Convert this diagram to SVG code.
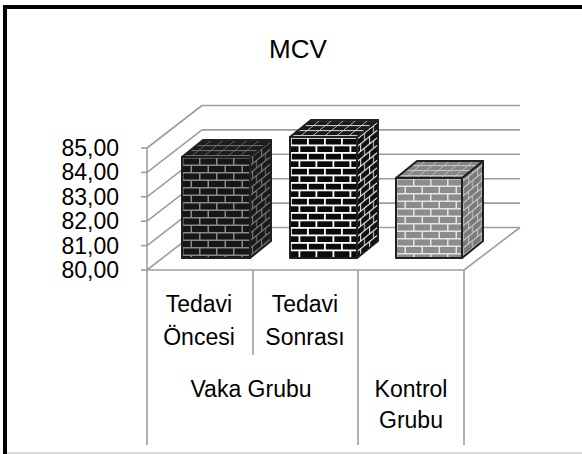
<svg xmlns="http://www.w3.org/2000/svg" width="582" height="454" viewBox="0 0 582 454">
<style>
.t{font-family:"Liberation Sans",Arial,sans-serif;fill:#000}
.lbl{font-size:23px;text-anchor:middle}
.ax{font-size:23px;text-anchor:end}
.g{stroke:#9e9e9e;stroke-width:1.6;fill:none}
.edge{stroke:#202020;stroke-width:2;stroke-linejoin:round}
</style>
<defs>
<pattern id="f1" width="17" height="15" patternUnits="userSpaceOnUse" x="182" y="157">
<rect width="17" height="15" fill="#8a8a8a"/>
<rect x="1.5" y="1.5" width="15.5" height="6" fill="#161616"/>
<rect x="0" y="9" width="8.5" height="6" fill="#161616"/>
<rect x="10" y="9" width="7" height="6" fill="#161616"/>
</pattern>
<pattern id="s1" width="9" height="15" patternUnits="userSpaceOnUse" patternTransform="skewY(-39)">
<rect width="9" height="15" fill="#7c7c7c"/>
<rect x="1" y="1.5" width="8" height="6" fill="#1a1a1a"/>
<rect x="0" y="9" width="4" height="6" fill="#1a1a1a"/>
<rect x="5" y="9" width="4" height="6" fill="#1a1a1a"/>
</pattern>
<pattern id="p1" width="12" height="5" patternUnits="userSpaceOnUse" patternTransform="skewX(-51)">
<rect width="12" height="5" fill="#6e6e6e"/>
<rect x="1" y="1.2" width="11" height="3.8" fill="#1c1c1c"/>
</pattern>
<pattern id="f2" width="17" height="15" patternUnits="userSpaceOnUse" x="290" y="137">
<rect width="17" height="15" fill="#ffffff"/>
<rect x="1.8" y="1.8" width="15.2" height="5.7" fill="#0a0a0a"/>
<rect x="0" y="9.3" width="8.5" height="5.7" fill="#0a0a0a"/>
<rect x="10.3" y="9.3" width="6.7" height="5.7" fill="#0a0a0a"/>
</pattern>
<pattern id="s2" width="9" height="15" patternUnits="userSpaceOnUse" patternTransform="skewY(-39)">
<rect width="9" height="15" fill="#e8e8e8"/>
<rect x="1" y="1.5" width="8" height="6" fill="#0e0e0e"/>
<rect x="0" y="9" width="4" height="6" fill="#0e0e0e"/>
<rect x="5" y="9" width="4" height="6" fill="#0e0e0e"/>
</pattern>
<pattern id="p2" width="12" height="5" patternUnits="userSpaceOnUse" patternTransform="skewX(-51)">
<rect width="12" height="5" fill="#d0d0d0"/>
<rect x="1" y="1.2" width="11" height="3.8" fill="#1a1a1a"/>
</pattern>
<pattern id="f3" width="17" height="15" patternUnits="userSpaceOnUse" x="396" y="178">
<rect width="17" height="15" fill="#e4e4e4"/>
<rect x="1.5" y="1.5" width="15.5" height="6" fill="#8c8c8c"/>
<rect x="0" y="9" width="8.5" height="6" fill="#8c8c8c"/>
<rect x="10" y="9" width="7" height="6" fill="#8c8c8c"/>
</pattern>
<pattern id="s3" width="9" height="15" patternUnits="userSpaceOnUse" patternTransform="skewY(-39)">
<rect width="9" height="15" fill="#c8c8c8"/>
<rect x="1" y="1.5" width="8" height="6" fill="#7a7a7a"/>
<rect x="0" y="9" width="4" height="6" fill="#7a7a7a"/>
<rect x="5" y="9" width="4" height="6" fill="#7a7a7a"/>
</pattern>
<pattern id="p3" width="12" height="5" patternUnits="userSpaceOnUse" patternTransform="skewX(-51)">
<rect width="12" height="5" fill="#c4c4c4"/>
<rect x="1" y="1.2" width="11" height="3.8" fill="#858585"/>
</pattern>
</defs>
<rect width="582" height="454" fill="#ffffff"/>
<g id="frame">
<line x1="3" y1="7" x2="582" y2="7" stroke="#000" stroke-width="4"/>
<line x1="5" y1="5" x2="5" y2="454" stroke="#000" stroke-width="4"/>
<line x1="7" y1="453" x2="582" y2="453" stroke="#d9d9d9" stroke-width="2"/>
</g>
<g id="title"><text class="t" x="298" y="58" font-size="26" text-anchor="middle">MCV</text></g>
<g id="connectors">
<g class="g">
<line x1="202" y1="105.5" x2="520" y2="105.5"/>
<line x1="202" y1="129.9" x2="520" y2="129.9"/>
<line x1="202" y1="154.3" x2="520" y2="154.3"/>
<line x1="202" y1="178.7" x2="520" y2="178.7"/>
<line x1="202" y1="203.1" x2="520" y2="203.1"/>
<line x1="202" y1="227.5" x2="520" y2="227.5"/>
<line x1="147" y1="148" x2="202" y2="105.5"/>
<line x1="147" y1="172.4" x2="202" y2="129.9"/>
<line x1="147" y1="196.8" x2="202" y2="154.3"/>
<line x1="147" y1="221.2" x2="202" y2="178.7"/>
<line x1="147" y1="245.6" x2="202" y2="203.1"/>
<line x1="147" y1="270" x2="202" y2="227.5"/>
<line x1="147" y1="270" x2="464" y2="270"/>
<line x1="464" y1="270" x2="520" y2="227.5"/>
<line x1="147" y1="147" x2="147" y2="445"/>
<line x1="141" y1="148" x2="147" y2="148"/>
<line x1="141" y1="172.4" x2="147" y2="172.4"/>
<line x1="141" y1="196.8" x2="147" y2="196.8"/>
<line x1="141" y1="221.2" x2="147" y2="221.2"/>
<line x1="141" y1="245.6" x2="147" y2="245.6"/>
<line x1="141" y1="270" x2="147" y2="270"/>
<line x1="253" y1="270" x2="253" y2="355"/>
<line x1="358" y1="270" x2="358" y2="445"/>
<line x1="464" y1="270" x2="464" y2="445"/>
</g>
</g>
<g id="bar-tedavi-oncesi">
<polygon class="edge" points="250,157 271,140 271,241 250,258" fill="url(#s1)"/>
<polygon class="edge" points="182,157 203,140 271,140 250,157" fill="url(#p1)"/>
<rect class="edge" x="182" y="157" width="68" height="101" fill="url(#f1)"/>
</g>
<g id="bar-tedavi-sonrasi">
<polygon class="edge" points="357,137 378,120 378,241 357,258" fill="url(#s2)"/>
<polygon class="edge" points="290,137 311,120 378,120 357,137" fill="url(#p2)"/>
<rect class="edge" x="290" y="137" width="67" height="121" fill="url(#f2)"/>
</g>
<g id="bar-kontrol">
<polygon class="edge" points="462,178 483,161 483,241 462,258" fill="url(#s3)"/>
<polygon class="edge" points="396,178 417,161 483,161 462,178" fill="url(#p3)"/>
<rect class="edge" x="396" y="178" width="66" height="80" fill="url(#f3)"/>
</g>
<g id="y-axis-labels" class="t ax">
<text x="119" y="156">85,00</text>
<text x="119" y="180.4">84,00</text>
<text x="119" y="204.8">83,00</text>
<text x="119" y="229.2">82,00</text>
<text x="119" y="253.6">81,00</text>
<text x="119" y="278">80,00</text>
</g>
<g id="category-labels" class="t lbl">
<text x="199" y="312">Tedavi</text>
<text x="199" y="345">Öncesi</text>
<text x="305" y="312">Tedavi</text>
<text x="305" y="345">Sonrası</text>
<text x="251" y="397">Vaka Grubu</text>
<text x="411" y="397">Kontrol</text>
<text x="411" y="428">Grubu</text>
</g>
</svg>
